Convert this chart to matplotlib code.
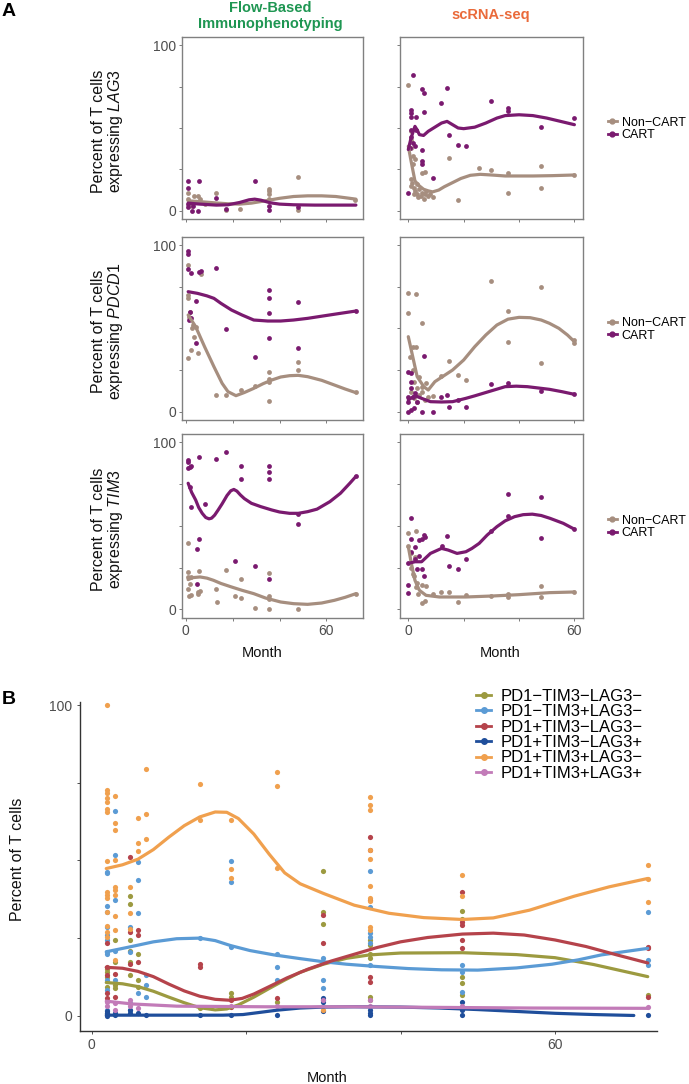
import matplotlib
matplotlib.use('Agg')
import matplotlib.pyplot as plt
from matplotlib.lines import Line2D

plt.rcParams['font.family'] = ['Liberation Sans', 'DejaVu Sans']
plt.rcParams['mathtext.fontset'] = 'custom'
plt.rcParams['mathtext.rm'] = 'Liberation Sans'
plt.rcParams['mathtext.it'] = 'Liberation Sans:italic'

# ---------------- colours ----------------
C_NON = '#A68E7F'
C_CART = '#7A1A6F'
C_GREEN = '#1E9652'
C_ORANGE_T = '#EA6A3A'

# ---------------- Panel A data ----------------
genes = ['LAG3', 'PDCD1', 'TIM3']
legend_a_labels = ['Non\u2212CART', 'CART']

# LAG3 - flow
lag3_flow_non = [(1, 11), (1, 7), (3.3, 9), (5.2, 9), (6, 7), (8, 4), (1.5, 5), (2.5, 3), (13, 11), (17, 0.6),
                 (23, 1), (35.5, 13.4), (35.5, 12), (35.5, 10), (35.5, 7), (47.8, 20.6), (47.8, 0.6), (72, 6.5)]
lag3_flow_cart = [(1, 18), (1, 14), (5.7, 18), (1, 2), (2.5, 0), (5, 0), (13, 7.4), (17, 1), (29.4, 18), (35.5, 3),
                  (35.5, 0.6), (47.8, 2), (1, 4), (3, 3)]
lag3_flow_non_fit = [(1, 6), (6, 5.5), (12, 4.8), (18, 4.2), (23, 4), (28, 4.6), (34, 6), (40, 7.5), (46, 8.6),
                     (52, 9), (58, 9), (64, 8.6), (70, 7.5), (72.6, 7)]
lag3_flow_cart_fit = [(1, 4.6), (6, 4), (13, 3.4), (18, 3.6), (23, 5), (27, 6.6), (29.4, 7), (32, 6.4), (36, 4.8),
                      (40, 4), (46, 3.6), (55, 3.4), (65, 3.4), (72.6, 3.4)]
# LAG3 - scRNA
lag3_sc_non = [(0, 76), (0.8, 48), (0.8, 43), (0.8, 38), (1.6, 33), (2.4, 31), (1.6, 28), (4.8, 23), (5.9, 23.4),
               (14.7, 32), (18, 6.4), (25.6, 25.6), (30, 24.6), (36, 23), (36, 11), (48, 27), (48, 14), (60, 21.6),
               (1, 19), (1.5, 17), (2, 14), (2.5, 12), (3, 10), (3.5, 8), (4, 13), (4.5, 9), (5, 11), (5.5, 7),
               (6, 10), (6.5, 12), (7, 9), (8, 10), (9, 8), (3, 16), (2, 10), (1, 15)]
lag3_sc_cart = [(1.6, 82), (4.8, 73.4), (5.6, 71.4), (11.7, 65), (13.9, 74), (30, 66.6), (36, 62), (60, 56),
                (48, 50.4), (14.7, 46), (18, 39.6), (20.8, 39), (8.8, 20), (0, 10.6), (0.8, 61), (0.8, 59),
                (0.8, 56.6), (2.7, 56.6), (5.6, 59.4), (0.8, 49), (0.8, 44.6), (2.7, 48.6), (1.6, 41), (2.4, 39),
                (4.8, 37), (4.8, 30), (4.8, 28.4), (36, 60.5), (0.5, 38)]
lag3_sc_non_fit = [(0, 39), (1, 30), (2.4, 18), (4, 15), (5.5, 13), (7.2, 12), (8.8, 11.4), (11, 12.5), (13, 14.5),
                   (16, 17), (19, 19.5), (22.4, 21.4), (26, 22), (30, 21.6), (35, 21), (45, 21), (52, 21.2), (60, 21.6)]
lag3_sc_cart_fit = [(0, 37), (1, 44), (2.4, 51), (3.3, 48.5), (4, 46), (5.5, 45.5), (7.2, 48), (9.6, 50.5), (12, 53),
                    (14, 54), (16, 52), (18, 50), (20, 49.6), (24, 50.5), (28, 53), (32, 56), (35, 57.5), (40, 58),
                    (45, 57.5), (50, 56), (55, 54), (60, 52)]

# PDCD1 - flow
pdcd1_flow_non = [(1, 88), (1, 70), (1, 68), (1.9, 60), (3.2, 52), (4.2, 51), (1, 32), (2.3, 37), (5.1, 35),
                  (6.5, 82.6), (13, 10), (17, 10), (23.5, 13), (29.4, 15.6), (35.5, 23.6), (35.5, 19.4), (35.5, 18),
                  (35.5, 6.4), (47.8, 30), (47.8, 25), (72.6, 11.6), (1.5, 57), (2.5, 50), (3.5, 45)]
pdcd1_flow_cart = [(1, 96.6), (1, 94.6), (1, 85.4), (2.3, 83), (5.7, 84), (6.5, 84.6), (13, 86.4), (4.2, 66.4),
                   (17.2, 49.6), (29.4, 33), (35.5, 73), (35.5, 68), (35.5, 59), (35.5, 44), (47.8, 66), (47.8, 38),
                   (1.5, 55), (2.3, 56), (4.2, 41), (1.9, 60), (72.6, 60.4)]
pdcd1_flow_non_fit = [(1, 58), (4.2, 51), (8, 39), (12, 27), (15.5, 17), (18, 12), (21.4, 9.6), (25, 11.5), (29, 14),
                      (33, 16.8), (36.7, 19), (40.5, 20.8), (44.3, 21.6), (48, 21.8), (52, 21), (58, 18.8),
                      (63.4, 16), (68, 13.6), (72.6, 11.4)]
pdcd1_flow_cart_fit = [(1, 72), (5, 71), (9, 69.5), (12, 68), (15, 65), (19.5, 61), (24, 58), (29, 55), (35, 54.4),
                       (40.5, 54.4), (46, 55), (52, 56), (58, 57.3), (65, 58.8), (72.6, 60.4)]
# PDCD1 - scRNA
pdcd1_sc_non = [(0, 71), (2.7, 70.4), (0, 59), (4.8, 53), (1.6, 39), (2.7, 38.6), (0.5, 33), (1.6, 25), (4, 21),
                (4.8, 15), (6.4, 17), (14.7, 30.4), (18, 22), (20.8, 19), (30, 78.4), (36, 60.6), (36, 41.6),
                (48, 75), (48, 29.4), (60, 43), (60, 41), (8.8, 9.6), (11.7, 21.6), (1, 12), (2, 8), (3, 6),
                (4, 10), (5, 12), (6, 7), (7, 9), (3, 14), (2, 18)]
pdcd1_sc_cart = [(5.6, 33.4), (0, 23.6), (0.8, 23), (0.8, 18), (0.8, 14), (0, 9), (1.6, 9), (0, 5.6), (0, 0),
                 (4.8, 0), (8.8, 0), (11.7, 9), (14, 10), (14.7, 3), (20.8, 3), (18, 7), (30, 16.4), (36, 17.4),
                 (48, 12.6), (60, 10.4), (2.4, 11), (3.2, 6), (1, 1), (2, 2)]
pdcd1_sc_non_fit = [(0, 45), (1.6, 33), (3.2, 21), (5.6, 15), (7.2, 13), (9.6, 18), (12.8, 21.5), (16, 25), (20, 31),
                    (24, 39), (28, 46), (32, 52), (36, 55.5), (40, 56.6), (44, 56.4), (48, 55), (51, 53),
                    (54.4, 50), (57.5, 46), (60, 42)]
pdcd1_sc_cart_fit = [(0, 7), (2.4, 9.6), (4.8, 8), (8, 6), (12, 5.8), (16, 6), (20.8, 8), (24, 9.5), (27, 11),
                     (31, 13), (35, 15), (39, 15.3), (43, 15), (47, 14.2), (51, 13.4), (55.5, 12), (60, 10.4)]

# TIM3 - flow
tim3_flow_non = [(1, 40), (1, 22.4), (1, 19.4), (2.3, 19.4), (1.9, 15.4), (1, 12.4), (2.3, 8.4), (5.1, 9.4),
                 (5.7, 23), (5.1, 10.4), (13, 12.4), (13.4, 4.4), (17, 23.4), (20.8, 8), (23.5, 18.4), (23.5, 7),
                 (29.6, 0.8), (35.5, 22), (35.5, 8), (35.5, 6.4), (35.5, 0), (47.8, 0.4), (72.6, 9), (1.5, 8), (6, 11)]
tim3_flow_cart = [(1, 89.6), (1, 88), (1.9, 85), (1, 84.6), (2.3, 85.6), (5.7, 91), (13, 90), (17, 94), (23.5, 86),
                  (23.5, 78), (35.5, 86), (35.5, 82), (35.5, 78), (1.9, 73), (2.3, 61.5), (8.4, 63), (47.8, 57),
                  (47.8, 51), (72.6, 80), (5.7, 42), (4.6, 36), (20.8, 29), (29.6, 26), (35.5, 18), (4.6, 15.4)]
tim3_flow_non_fit = [(1, 17.8), (3, 19), (6.1, 19.4), (9, 18.7), (11.8, 17.4), (15, 15.5), (19.5, 13.4), (24, 11.4),
                     (29, 9.4), (34, 6.8), (40.5, 4.4), (46, 3.4), (52, 3), (58, 3.8), (63.4, 5.4), (68, 7.2),
                     (72.6, 9.4)]
tim3_flow_cart_fit = [(1, 75.5), (2.5, 70), (4.2, 65.5), (5.5, 61), (7, 57.5), (8.5, 55), (9.9, 54.2), (11, 54.6),
                      (12.3, 56.4), (13.8, 59.5), (15.5, 63.2), (17.6, 68.2), (19.2, 71), (20.5, 71.8), (21.8, 70.8),
                      (23.3, 68.5), (25, 66.3), (28, 63.5), (32, 61.5), (36.7, 59.5), (40, 58.3), (44.3, 57.5),
                      (48, 57.5), (52, 58.5), (56, 60), (61.5, 64.5), (66, 69.5), (70, 75.5), (72.6, 79.6)]
# TIM3 - scRNA
tim3_sc_non = [(0, 45.5), (0, 38), (2.7, 47), (2.4, 31.5), (1.6, 21.4), (2.9, 13.4), (4.8, 14.8), (4.8, 3.8), (6, 4.8),
               (6.4, 13.8), (8.8, 9.4), (11.7, 10.4), (14.7, 10.4), (18, 4.4), (20.8, 8.4), (30, 7.8), (36, 9),
               (36, 7.4), (48, 13.8), (48, 7.4), (60, 10.4), (1, 25), (2, 20), (3, 16), (3.5, 9), (1, 34)]
tim3_sc_cart = [(0.8, 54.5), (0.8, 42), (2.4, 37.5), (4, 41.5), (4.8, 42.3), (5.6, 44.5), (0.8, 34.5), (3.2, 24.4),
                (5.1, 24.4), (0, 27.5), (0, 14.8), (0, 10), (6, 43.5), (12, 38), (14, 44), (14.7, 26), (18, 24.4),
                (20.8, 30), (30, 47), (36, 69), (36, 56), (48, 67.5), (48, 43), (60, 48), (2.4, 30), (4, 32), (5.6, 20)]
tim3_sc_non_fit = [(0, 37.5), (1.1, 27.5), (2.4, 17.4), (4, 11.4), (6.4, 8.4), (11.2, 7.4), (20.8, 7.4), (30.4, 8),
                   (40, 8.8), (51, 10), (60, 10.4)]
tim3_sc_cart_fit = [(0, 27.5), (2.4, 28.5), (4.8, 28.5), (8, 33.5), (12, 36.5), (14.4, 35.5), (17.6, 33.5),
                    (20.8, 34.5), (23, 36.5), (25.6, 39.5), (28.5, 44.5), (32, 49.5), (35, 53), (38.4, 55.5),
                    (41.5, 56.7), (44.8, 57), (48, 56.2), (51.2, 54.5), (56, 51.5), (60, 48)]

panel_a = [
    [(lag3_flow_non, lag3_flow_cart, lag3_flow_non_fit, lag3_flow_cart_fit),
     (lag3_sc_non, lag3_sc_cart, lag3_sc_non_fit, lag3_sc_cart_fit)],
    [(pdcd1_flow_non, pdcd1_flow_cart, pdcd1_flow_non_fit, pdcd1_flow_cart_fit),
     (pdcd1_sc_non, pdcd1_sc_cart, pdcd1_sc_non_fit, pdcd1_sc_cart_fit)],
    [(tim3_flow_non, tim3_flow_cart, tim3_flow_non_fit, tim3_flow_cart_fit),
     (tim3_sc_non, tim3_sc_cart, tim3_sc_non_fit, tim3_sc_cart_fit)],
]

# ---------------- Panel B data ----------------
b_labels = ['PD1\u2212TIM3\u2212LAG3\u2212', 'PD1\u2212TIM3+LAG3\u2212', 'PD1+TIM3\u2212LAG3\u2212',
            'PD1+TIM3\u2212LAG3+', 'PD1+TIM3+LAG3\u2212', 'PD1+TIM3+LAG3+']
b_colors = ['#9C9A40', '#5B9BD5', '#B5434B', '#1F4E9B', '#F0A04E', '#C27BB8']

b_olive = [(2, 15.2), (2, 14.2), (2, 12.6), (2, 9.3), (2, 0.8), (3, 24.5), (3, 17.4), (3, 9.9), (3, 8.8), (5, 38.5),
           (5, 36), (5, 24.4), (5, 21), (5, 17.4), (5, 13), (6, 20), (6, 11.5), (6, 9.3), (14, 2.4), (18, 7.2),
           (18, 6), (24, 4.5), (30, 46.7), (30, 33.5), (30, 29.7), (36, 24.4), (36, 22.7), (36, 20), (36, 18.5),
           (36, 6.1), (36, 5), (48, 33.7), (48, 31), (48, 12.6), (48, 10.4), (48, 6.7), (72, 6.7)]
b_blue = [(2, 46.4), (2, 45.8), (2, 35.3), (2, 33.5), (2, 28.6), (2, 26), (2, 24.4), (2, 20.6), (2, 20), (2, 11.5),
          (2, 8.3), (2, 1.8), (3, 66), (3, 51.7), (3, 37.4), (3, 21), (3, 11.5), (5, 28.6), (5, 20.6), (5, 4),
          (5, 1.8), (6, 49.6), (6, 43.7), (6, 33), (6, 7.2), (7, 13), (7, 10), (7, 6), (14, 24.9), (18, 49.8),
          (18, 43.1), (18, 22), (24, 20), (24, 15.8), (24, 11.5), (30, 18.5), (30, 11.5), (30, 8.8), (30, 5),
          (36, 46.7), (36, 35), (36, 26.5), (36, 25.4), (36, 23.3), (36, 16.3), (48, 16.3), (48, 14.2), (48, 7.7),
          (72, 33.3), (72, 17.9), (72, 16.3)]
b_red = [(2, 23.3), (2, 15.8), (2, 13.1), (2, 7.2), (2, 5.6), (3, 13.6), (3, 6), (5, 51), (5, 27), (5, 16.8),
         (6, 27.6), (6, 26), (6, 17.4), (14, 16.8), (14, 15.8), (18, 5), (18, 2.9), (24, 5.6), (30, 32.4),
         (30, 23.5), (36, 57.4), (36, 53.5), (36, 37.2), (36, 12.6), (36, 11), (48, 39.9), (48, 30.3), (48, 29.2),
         (48, 24.4), (48, 21.7), (72, 22.2), (72, 21.7), (72, 6.1)]
b_navy = [(2, 0.8), (2, 0), (2, 1.5), (3, 0.2), (3, 1), (5, 0.8), (5, 2), (6, 0.8), (7, 0.2), (14, 0.2), (18, 0.2),
          (24, 0.2), (30, 5.6), (30, 4.5), (30, 1.5), (36, 1.8), (36, 0.8), (36, 0.2), (48, 4.5), (48, 1.8),
          (48, 0.2), (72, 0.2)]
b_orange = [(2, 100), (2, 72.6), (2, 71.8), (2, 70), (2, 68.8), (2, 66.4), (2, 65.7), (2, 49.9), (2, 39.9),
            (2, 38.8), (2, 37.8), (2, 33.5), (2, 29), (2, 27), (2, 25.4), (3, 70.7), (3, 62), (3, 59.8), (3, 50),
            (3, 41.5), (3, 40.5), (3, 38.8), (3, 32), (3, 27.6), (3, 18), (5, 41.3), (5, 33), (5, 28), (6, 63.7),
            (6, 55.5), (6, 53), (7, 79.4), (7, 65), (7, 57), (14, 74.5), (14, 63), (18, 63), (18, 47.4), (18, 44.2),
            (24, 78.5), (24, 74), (24, 47.6), (30, 1.8), (36, 70.5), (36, 67.8), (36, 66.2), (36, 53.3), (36, 50.6),
            (36, 41.7), (36, 37.8), (36, 37), (36, 28.6), (36, 27.6), (48, 45.3), (48, 38.5), (72, 48.5), (72, 44),
            (72, 36.5)]
b_pink = [(2, 4.5), (2, 3), (3, 4), (3, 2), (5, 5), (5, 3), (6, 2.5), (18, 3), (24, 3), (30, 5), (36, 5), (36, 3),
          (48, 3), (72, 2.9)]

b_olive_fit = [(1.9, 10.7), (4, 10.3), (6, 9.4), (8, 7.9), (10, 6), (12, 4.2), (14, 2.6), (16, 1.9), (17.5, 2.2),
               (19, 3.5), (21, 6), (23, 8.8), (25, 11.5), (27, 14), (30, 16.6), (33, 18.5), (36, 19.6), (40, 20.2),
               (48, 20.3), (55, 19.7), (60, 18.7), (65, 16.5), (72, 12.6)]
b_blue_fit = [(1.9, 20.6), (5, 22.2), (8, 23.8), (11, 24.8), (14, 25), (16, 24.2), (18, 22.6), (20.5, 21),
              (23.6, 19.6), (27, 18.4), (30, 17.4), (33, 16.6), (36.7, 15.9), (41, 15.2), (45.3, 14.8), (50, 14.7),
              (55, 15.4), (59.6, 16.6), (63, 18), (66, 19.6), (72, 21.7)]
b_red_fit = [(1.9, 15.6), (4, 15.3), (6, 14.3), (8, 12.6), (10, 10.2), (12, 8), (14, 6.3), (16, 5.3), (17.9, 5),
             (19.5, 5.6), (21, 7), (23, 9.4), (25.3, 12.2), (28, 15), (31, 17.6), (34, 19.8), (37, 22), (40, 23.8),
             (43.5, 25.2), (48, 26.3), (52, 26.6), (56, 26), (60, 24.4), (64, 22.3), (68, 19.6), (72, 17)]
b_navy_fit = [(1.9, 0.2), (17, 0.2), (19.6, 0.4), (21.5, 1), (24, 1.8), (27, 2.5), (30, 2.8), (34, 2.9), (40, 2.8),
              (45, 2.5), (50, 2), (55, 1.4), (60, 0.8), (65, 0.4), (70.2, 0.1)]
b_orange_fit = [(1.9, 47.4), (4, 48.6), (6, 50.4), (8, 53.5), (10, 57.5), (12, 61.2), (14, 64), (16, 65.6),
                (17.5, 65.5), (19, 63.5), (21, 58.5), (23, 52), (25, 46), (27, 42.5), (30, 39.4), (34, 35.6),
                (38.5, 33), (43, 31.6), (48, 31), (52, 31.5), (56.7, 34), (62.5, 38.5), (67, 41.5), (72, 44.2)]
b_pink_fit = [(1.9, 4.7), (5.3, 3.8), (11, 3.1), (22.5, 2.9), (33.9, 2.9), (45.3, 2.7), (56.7, 2.5), (72, 2.4)]

b_points = [b_olive, b_blue, b_red, b_navy, b_orange, b_pink]
b_fits = [b_olive_fit, b_blue_fit, b_red_fit, b_navy_fit, b_orange_fit, b_pink_fit]

# ---------------- figure ----------------
W, H = 689, 1084
fig = plt.figure(figsize=(W / 100, H / 100), dpi=100)


def add_ax(x0, y0, x1, y1):
    return fig.add_axes([x0 / W, 1 - y1 / H, (x1 - x0) / W, (y1 - y0) / H])


TICK_C = '#4D4D4D'
SPINE_C = '#808080'

col_x = [(182.3, 362.7), (400, 582.7)]
row_y = [(37, 219), (236.7, 420), (434, 617.7)]
xlims = [(-1.5, 75.5), (-3, 63)]


def unzip(pts):
    return [p[0] for p in pts], [p[1] for p in pts]


for r in range(3):
    for c in range(2):
        ax = add_ax(col_x[c][0], row_y[r][0], col_x[c][1], row_y[r][1])
        non, cart, non_fit, cart_fit = panel_a[r][c]
        x, y = unzip(non)
        ax.scatter(x, y, s=12, color=C_NON, lw=0, zorder=2)
        x, y = unzip(cart)
        ax.scatter(x, y, s=12, color=C_CART, lw=0, zorder=2)
        x, y = unzip(non_fit)
        ax.plot(x, y, color=C_NON, lw=2.3, zorder=3, solid_capstyle='round', solid_joinstyle='round')
        x, y = unzip(cart_fit)
        ax.plot(x, y, color=C_CART, lw=2.3, zorder=3, solid_capstyle='round', solid_joinstyle='round')
        ax.set_xlim(*xlims[c])
        ax.set_ylim(-5, 105)
        ax.set_xticks([0, 20, 40, 60])
        ax.set_yticks([0, 25, 50, 75, 100])
        ax.set_xticklabels(['0', '', '', '60'] if r == 2 else ['', '', '', ''])
        ax.set_yticklabels(['0', '', '', '', '100'] if c == 0 else [''] * 5)
        ax.tick_params(length=2.5, width=0.6, color='#666666', labelcolor=TICK_C, labelsize=10, pad=2)
        for s in ax.spines.values():
            s.set_color(SPINE_C)
            s.set_linewidth(1.0)
    # y label
    yc = (row_y[r][0] + row_y[r][1]) / 2 + 3
    fig.text(108 / W, 1 - yc / H, 'Percent of T cells\nexpressing $\\mathit{' + genes[r] + '}$',
             rotation=90, ha='center', va='center', fontsize=11.5, linespacing=1.0, color='#111111')
    # legend
    handles = [Line2D([0], [0], color=C_NON, lw=2, marker='o', ms=3.5),
               Line2D([0], [0], color=C_CART, lw=2, marker='o', ms=3.5)]
    fig.legend(handles, legend_a_labels, loc='center left', bbox_to_anchor=(608 / W, 1 - (yc - 2) / H),
               frameon=False, fontsize=9, handlelength=0.7, handletextpad=0.4, labelspacing=0.05,
               borderpad=0, borderaxespad=0)

fig.text(262 / W, 1 - 653 / H, 'Month', ha='center', va='center', fontsize=10.5, color='#111111')
fig.text(500 / W, 1 - 653 / H, 'Month', ha='center', va='center', fontsize=10.5, color='#111111')

fig.text(270 / W, 1 - 8 / H, 'Flow-Based', ha='center', va='center', fontsize=10.5, weight='bold', color=C_GREEN)
fig.text(270 / W, 1 - 24 / H, 'Immunophenotyping', ha='center', va='center', fontsize=10.5, weight='bold',
         color=C_GREEN)
fig.text(491 / W, 1 - 15 / H, 'scRNA-seq', ha='center', va='center', fontsize=10.5, weight='bold', color=C_ORANGE_T)
fig.text(2 / W, 1 - 12 / H, 'A', ha='left', va='center', fontsize=14, weight='bold')
fig.text(2 / W, 1 - 699 / H, 'B', ha='left', va='center', fontsize=14, weight='bold')

# ---------------- Panel B ----------------
axb = add_ax(80, 702, 657, 1030.7)
for pts, col in zip(b_points, b_colors):
    x, y = unzip(pts)
    axb.scatter(x, y, s=14, color=col, lw=0, zorder=2, clip_on=False)
for fit, col in zip(b_fits, b_colors):
    x, y = unzip(fit)
    axb.plot(x, y, color=col, lw=2.3, zorder=3, solid_capstyle='round', solid_joinstyle='round')
axb.set_xlim(-1.5, 73.2)
axb.set_ylim(-4.8, 101)
axb.set_xticks([0, 20, 40, 60])
axb.set_xticklabels(['0', '', '', '60'])
axb.set_yticks([0, 25, 50, 75, 100])
axb.set_yticklabels(['0', '', '', '', '100'])
axb.tick_params(length=2.5, width=0.6, color='#333333', labelcolor=TICK_C, labelsize=10, pad=3)
axb.spines['top'].set_visible(False)
axb.spines['right'].set_visible(False)
for s in ['left', 'bottom']:
    axb.spines[s].set_color('#333333')
    axb.spines[s].set_linewidth(1.0)
fig.text(18 / W, 1 - 859 / H, 'Percent of T cells', rotation=90, ha='center', va='center', fontsize=11.5,
         color='#111111')
fig.text(327 / W, 1 - 1078 / H, 'Month', ha='center', va='center', fontsize=10.5, color='#111111')

handles_b = [Line2D([0], [0], color=col, lw=2, marker='o', ms=4) for col in b_colors]
fig.legend(handles_b, b_labels, loc='upper left', bbox_to_anchor=(476 / W, 1 - 689 / H), frameon=False,
           fontsize=12, handlelength=0.9, handletextpad=0.6, labelspacing=0.02, borderpad=0, borderaxespad=0)

fig.savefig('out.png', dpi=100)
